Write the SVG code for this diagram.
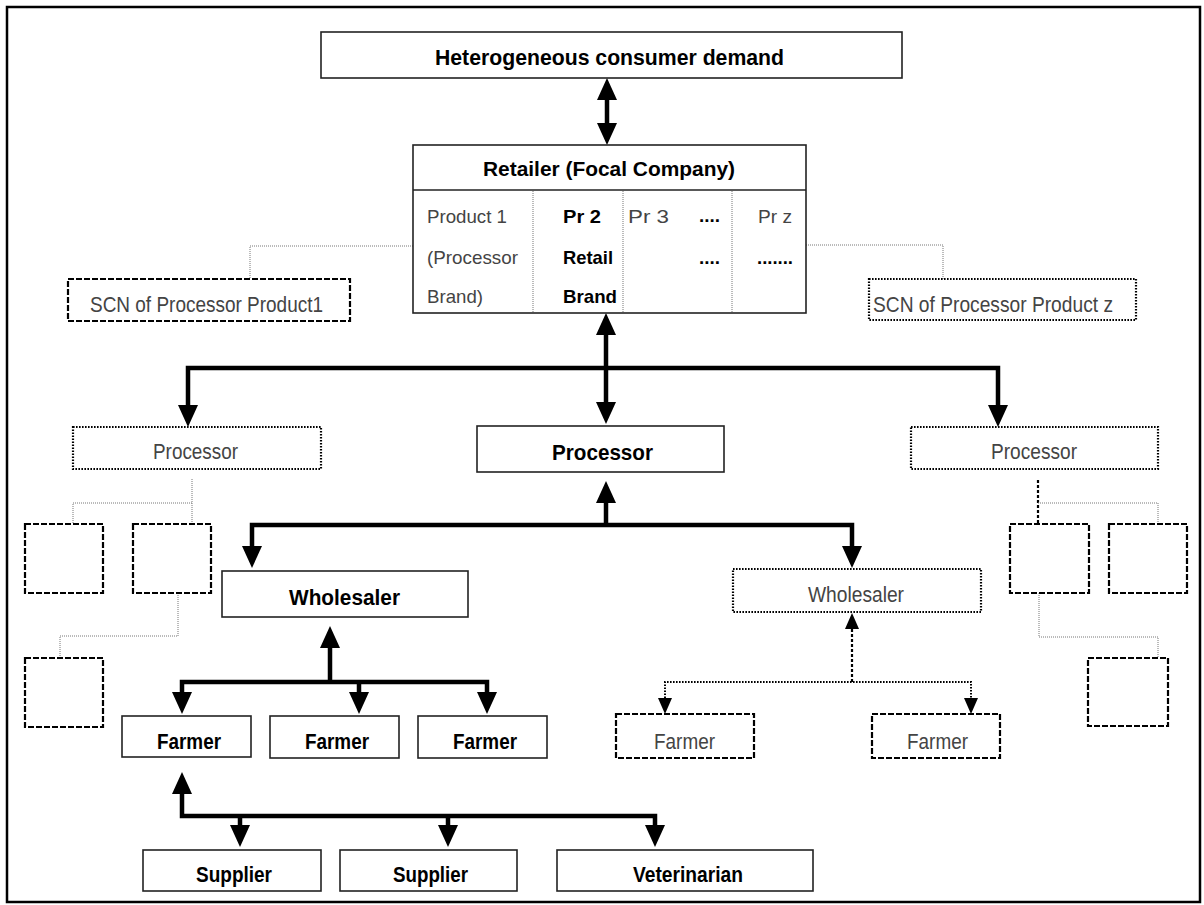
<svg xmlns="http://www.w3.org/2000/svg" width="1204" height="905" viewBox="0 0 1204 905">
<style>
text{font-family:"Liberation Sans",Arial,sans-serif}
.b{font-weight:bold;fill:#000;font-size:22px}
.g{fill:#444;font-size:22px}
.tb{font-weight:bold;fill:#000;font-size:19px}
.tg{fill:#444;font-size:19px}
.solid{fill:#fff;stroke:#222;stroke-width:1.6}
.dot{fill:#fff;stroke:#000;stroke-width:2.2;stroke-dasharray:1.6 1.4}
.dash{fill:#fff;stroke:#000;stroke-width:2.2;stroke-dasharray:6 2}
.thick{fill:none;stroke:#000;stroke-width:4.5}
.thin{fill:none;stroke:#777;stroke-width:1;stroke-dasharray:1 1}
.mid{fill:none;stroke:#000;stroke-width:2.2;stroke-dasharray:3 2}
.ddot{fill:none;stroke:#000;stroke-width:2;stroke-dasharray:1.6 1.4}
</style>
<defs>
<marker id="ah" markerUnits="userSpaceOnUse" markerWidth="24" markerHeight="22" refX="0" refY="10" orient="auto-start-reverse" overflow="visible"><path d="M0,0 L22,10 L0,20 z" fill="#000"/></marker>
<marker id="as" markerUnits="userSpaceOnUse" markerWidth="18" markerHeight="16" refX="0" refY="7" orient="auto-start-reverse" overflow="visible"><path d="M0,0 L16,7 L0,14 z" fill="#000"/></marker>
</defs>
<rect x="7" y="7" width="1193" height="895" fill="#fff" stroke="#000" stroke-width="2.5"/>

<g id="connectors">
<path class="thin" d="M413 246 H250 V279"/>
<path class="thin" d="M806 245 H943 V279"/>
<path class="thin" d="M192 479 V524 M192 503 H73 V524"/>
<path class="thin" d="M178 593 V636 H60 V658"/>
<path class="mid" d="M1038 480 V524"/>
<path class="thin" d="M1038 503 H1158 V524"/>
<path class="thin" d="M1039 593 V637 H1158 V658"/>
<path class="thick" d="M607 100 V123" marker-start="url(#ah)" marker-end="url(#ah)"/>
<path class="thick" d="M606 335 V402" marker-start="url(#ah)" marker-end="url(#ah)"/>
<path class="thick" d="M188 405 V368 H998 V405" marker-start="url(#ah)" marker-end="url(#ah)"/>
<path class="thick" d="M606 525 V503" marker-end="url(#ah)"/>
<path class="thick" d="M252 546 V525 H852 V546" marker-start="url(#ah)" marker-end="url(#ah)"/>
<path class="thick" d="M330 682 V648" marker-end="url(#ah)"/>
<path class="thick" d="M182 692 V682 H487 V692" marker-start="url(#ah)" marker-end="url(#ah)"/>
<path class="thick" d="M359 682 V692" marker-end="url(#ah)"/>
<path class="thick" d="M182 794 V816 H655 V825" marker-start="url(#ah)" marker-end="url(#ah)"/>
<path class="thick" d="M240 816 V825" marker-end="url(#ah)"/>
<path class="thick" d="M448 816 V825" marker-end="url(#ah)"/>
<path class="mid" d="M852 682 V629" marker-end="url(#as)"/>
<path class="ddot" d="M665 698 V682 H971 V698" marker-start="url(#as)" marker-end="url(#as)"/>
</g>

<g id="demand">
<rect class="solid" x="321" y="32" width="581" height="46"/>
<text class="b" x="435" y="65" textLength="349" lengthAdjust="spacingAndGlyphs">Heterogeneous consumer demand</text>
</g>

<g id="retailer">
<rect class="solid" x="413" y="145" width="393" height="168"/>
<line x1="413" y1="190" x2="806" y2="190" stroke="#222" stroke-width="1.6"/>
<path class="thin" d="M533 191 V313 M623 191 V313 M732 191 V313"/>
<text class="b" x="483" y="176" style="font-size:21px" textLength="252" lengthAdjust="spacingAndGlyphs">Retailer (Focal Company)</text>
<text class="tg" x="427" y="223" textLength="80" lengthAdjust="spacingAndGlyphs">Product 1</text>
<text class="tg" x="427" y="264" textLength="91" lengthAdjust="spacingAndGlyphs">(Processor</text>
<text class="tg" x="427" y="303" textLength="56" lengthAdjust="spacingAndGlyphs">Brand)</text>
<text class="tb" x="563" y="223" textLength="38" lengthAdjust="spacingAndGlyphs">Pr 2</text>
<text class="tb" x="563" y="264" textLength="50" lengthAdjust="spacingAndGlyphs">Retail</text>
<text class="tb" x="563" y="303" textLength="54" lengthAdjust="spacingAndGlyphs">Brand</text>
<text class="tg" x="628" y="223" textLength="41" lengthAdjust="spacingAndGlyphs">Pr 3</text>
<text class="tb" x="699" y="222" textLength="21" lengthAdjust="spacingAndGlyphs">....</text>
<text class="tb" x="699" y="264" textLength="21" lengthAdjust="spacingAndGlyphs">....</text>
<text class="tg" x="758" y="223" textLength="34" lengthAdjust="spacingAndGlyphs">Pr z</text>
<text class="tb" x="757" y="264" textLength="36" lengthAdjust="spacingAndGlyphs">.......</text>
</g>

<g id="scn1">
<rect class="dash" x="68" y="279" width="282" height="42"/>
<text class="g" x="90" y="312" textLength="233" lengthAdjust="spacingAndGlyphs">SCN of Processor Product1</text>
</g>
<g id="scnz">
<rect class="dot" x="869" y="279" width="267" height="41"/>
<text class="g" x="873" y="312" textLength="240" lengthAdjust="spacingAndGlyphs">SCN of Processor Product z</text>
</g>

<g id="processor-left">
<rect class="dot" x="73" y="427" width="248" height="42"/>
<text class="g" x="153" y="459" textLength="85" lengthAdjust="spacingAndGlyphs">Processor</text>
</g>
<g id="processor-main">
<rect class="solid" x="477" y="426" width="247" height="46"/>
<text class="b" x="552" y="460" textLength="101" lengthAdjust="spacingAndGlyphs">Processor</text>
</g>
<g id="processor-right">
<rect class="dot" x="911" y="427" width="247" height="42"/>
<text class="g" x="991" y="459" textLength="86" lengthAdjust="spacingAndGlyphs">Processor</text>
</g>

<g id="boxA"><rect class="dash" x="25" y="524" width="78" height="69"/></g>
<g id="boxB"><rect class="dash" x="133" y="524" width="78" height="69"/></g>
<g id="boxC"><rect class="dash" x="25" y="658" width="78" height="69"/></g>
<g id="boxD"><rect class="dash" x="1010" y="524" width="79" height="69"/></g>
<g id="boxE"><rect class="dash" x="1109" y="524" width="78" height="69"/></g>
<g id="boxF"><rect class="dash" x="1088" y="658" width="80" height="68"/></g>

<g id="wholesaler-main">
<rect class="solid" x="222" y="571" width="246" height="46"/>
<text class="b" x="289" y="605" textLength="111" lengthAdjust="spacingAndGlyphs">Wholesaler</text>
</g>
<g id="wholesaler-right">
<rect class="dot" x="733" y="569" width="248" height="43"/>
<text class="g" x="808" y="602" textLength="96" lengthAdjust="spacingAndGlyphs">Wholesaler</text>
</g>

<g id="farmer1"><rect class="solid" x="122" y="716" width="129" height="41"/><text class="b" x="157" y="749" textLength="64" lengthAdjust="spacingAndGlyphs">Farmer</text></g>
<g id="farmer2"><rect class="solid" x="270" y="716" width="129" height="42"/><text class="b" x="305" y="749" textLength="64" lengthAdjust="spacingAndGlyphs">Farmer</text></g>
<g id="farmer3"><rect class="solid" x="418" y="716" width="129" height="42"/><text class="b" x="453" y="749" textLength="64" lengthAdjust="spacingAndGlyphs">Farmer</text></g>
<g id="farmer4"><rect class="dash" x="616" y="714" width="138" height="44"/><text class="g" x="654" y="749" textLength="61" lengthAdjust="spacingAndGlyphs">Farmer</text></g>
<g id="farmer5"><rect class="dash" x="872" y="714" width="128" height="44"/><text class="g" x="907" y="749" textLength="61" lengthAdjust="spacingAndGlyphs">Farmer</text></g>

<g id="supplier1"><rect class="solid" x="143" y="850" width="178" height="41"/><text class="b" x="196" y="882" textLength="76" lengthAdjust="spacingAndGlyphs">Supplier</text></g>
<g id="supplier2"><rect class="solid" x="340" y="850" width="177" height="41"/><text class="b" x="393" y="882" textLength="75" lengthAdjust="spacingAndGlyphs">Supplier</text></g>
<g id="veterinarian"><rect class="solid" x="557" y="850" width="256" height="41"/><text class="b" x="633" y="882" textLength="110" lengthAdjust="spacingAndGlyphs">Veterinarian</text></g>
</svg>
